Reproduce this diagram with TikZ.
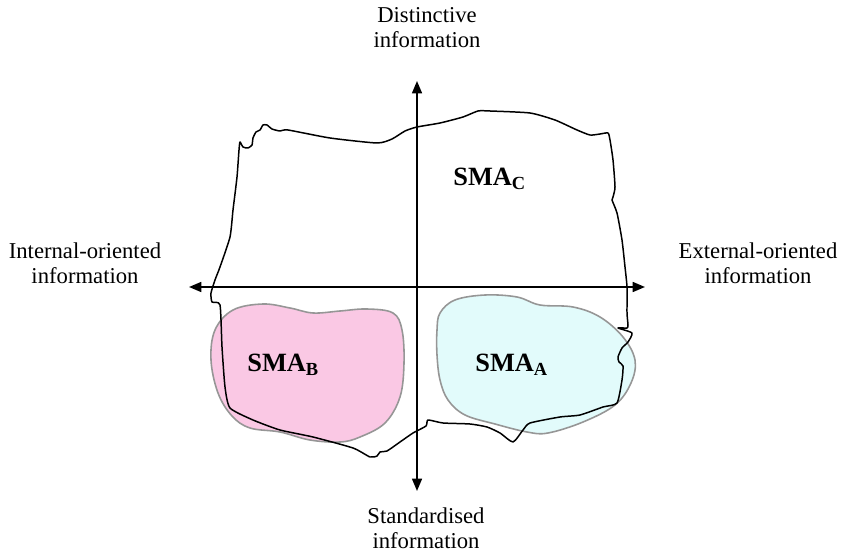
\documentclass[tikz,border=0pt]{standalone}
\usepackage{fontspec}
\setmainfont{Liberation Serif}
\usetikzlibrary{arrows.meta}

\definecolor{smapink}{RGB}{250,200,228}
\definecolor{smacyan}{RGB}{226,251,251}
\definecolor{smaedge}{RGB}{150,150,150}

\tikzset{
    axis/.style={line width=1.1pt, {Triangle[length=7pt,width=5.6pt]}-{Triangle[length=7pt,width=5.6pt]}},
    axislabel/.style={align=center, inner sep=0pt, font=\fontsize{12.9}{14.2}\selectfont},
    smalabel/.style={anchor=base west, inner sep=0pt, font=\fontsize{15}{18}\selectfont\bfseries},
    blob/.style={draw=smaedge, line width=0.9pt},
}

\begin{document}
\begin{tikzpicture}[x=0.02cm, y=-0.02cm]
    % page frame, pixel units
    \useasboundingbox (0,0) rectangle (844,553);

    % --- SMA_B and SMA_A regions ---
    \fill[smapink] plot[smooth cycle, tension=0.6] coordinates {
        (233,310) (263,304) (290,308) (313,313) (340,311) (367,309) (393,313)
        (402,330) (404,363) (400,397) (385,423) (360,437) (340,442) (310,440)
        (280,432) (250,428) (232,416) (218,393) (211,360) (215,330)};
    \fill[smacyan] plot[smooth cycle, tension=0.6] coordinates {
        (440,313) (455,300) (485,295) (517,297) (540,305) (573,307) (600,317)
        (623,337) (635,360) (631,383) (615,405) (583,422) (548,433) (527,432)
        (495,424) (465,415) (448,400) (440,380) (437,355) (437,330)};
    \draw[blob] plot[smooth cycle, tension=0.6] coordinates {
        (233,310) (263,304) (290,308) (313,313) (340,311) (367,309) (393,313)
        (402,330) (404,363) (400,397) (385,423) (360,437) (340,442) (310,440)
        (280,432) (250,428) (232,416) (218,393) (211,360) (215,330)};
    \draw[blob] plot[smooth cycle, tension=0.6] coordinates {
        (440,313) (455,300) (485,295) (517,297) (540,305) (573,307) (600,317)
        (623,337) (635,360) (631,383) (615,405) (583,422) (548,433) (527,432)
        (495,424) (465,415) (448,400) (440,380) (437,355) (437,330)};

    % --- SMA_C outline (hand drawn border) ---
    \draw[line width=0.85pt, line join=round] plot[smooth cycle, tension=0.35] coordinates {
        (240,142) (243,147) (248,148) (252,145) (253,138) (256,132) (260,130)
        (263,125) (267,125) (272,129) (280,131) (288,130) (330,138) (377,143)
        (392,139) (405,131) (417,127) (440,123) (463,117) (478,111) (490,111)
        (530,113) (555,120) (577,130) (590,135) (600,134) (608,133) (610,140)
        (613,160) (615,187) (613,197) (612,200) (617,213) (622,240) (625,267)
        (627,287) (627,313) (628,325) (627,328) (618,328) (632,333) (628,342)
        (622,348) (618,357) (619,362) (623,366) (622,380) (617,403) (603,407)
        (580,415) (560,417) (530,423) (523,430) (513,442) (500,433) (487,427)
        (470,424) (443,423) (428,420) (426,426) (413,433) (400,442) (387,451)
        (380,452) (377,456) (370,457) (353,448) (313,437) (280,430) (253,420)
        (230,408) (225,387) (222,347) (220,305) (212,302) (211,293) (215,280)
        (220,267) (230,237) (233,210) (237,177) (239,150)};

    % --- axes ---
    \coordinate (top) at (417,81);
    \coordinate (bot) at (417,491);
    \coordinate (west) at (189,287);
    \coordinate (east) at (645,287);
    \draw[axis] (bot) -- (top);
    \draw[axis] (west) -- (east);

    % axis labels
    \node[axislabel] (distinct) at (427,28) {Distinctive\\information};
    \node[axislabel] (standard) at (426,528.5) {Standardised\\information};
    \node[axislabel] (internal) at (85,263) {Internal-oriented\\information};
    \node[axislabel] (external) at (758,263) {External-oriented\\information};

    % region labels
    \node[smalabel] (smac) at (453,186) {SMA\textsubscript{C}};
    \node[smalabel] (smab) at (247,372) {SMA\textsubscript{B}};
    \node[smalabel] (smaa) at (475,372) {SMA\textsubscript{A}};
\end{tikzpicture}
\end{document}
